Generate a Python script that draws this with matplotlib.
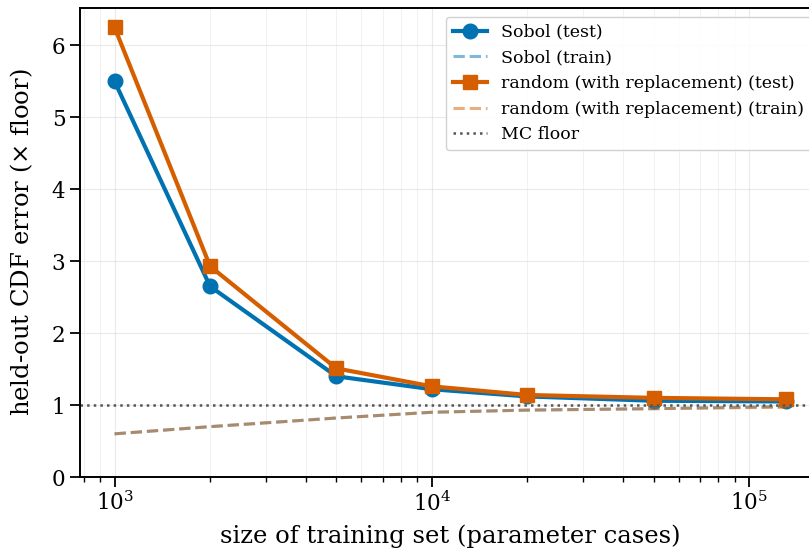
import matplotlib
matplotlib.use("Agg")
import matplotlib.pyplot as plt
import numpy as np

plt.rcParams['font.family'] = ['DejaVu Serif']
plt.rcParams['mathtext.fontset'] = 'dejavuserif'

# tailles d'entrainement (nb de cas de parametres)
n_train = [1000, 2000, 5000, 10000, 20000, 50000, 131072]

# erreur CDF hors-echantillon, en multiple du plancher MC
sobol_test = [5.50, 2.65, 1.40, 1.22, 1.12, 1.06, 1.05]
sobol_train = [0.60, 0.70, 0.82, 0.90, 0.93, 0.95, 0.98]
rand_test = [6.25, 2.93, 1.51, 1.26, 1.14, 1.10, 1.08]
rand_train = [0.60, 0.70, 0.82, 0.90, 0.93, 0.95, 0.97]
mc_floor = 1.0

c_sobol = '#0072B2'
c_rand = '#D55E00'

fig = plt.figure(figsize=(8.09, 5.5), dpi=100)
ax = fig.add_axes([80/809, 1 - 477/550, (820 - 80)/809, (477 - 8)/550])

ax.plot(n_train, sobol_test, '-o', color=c_sobol, lw=3, ms=10.5, label='Sobol (test)')
ax.plot(n_train, sobol_train, '--', color=c_sobol, lw=2.2, alpha=0.5, label='Sobol (train)')
ax.plot(n_train, rand_test, '-s', color=c_rand, lw=3, ms=10.5, label='random (with replacement) (test)')
ax.plot(n_train, rand_train, '--', color=c_rand, lw=2.2, alpha=0.5, label='random (with replacement) (train)')
ax.axhline(mc_floor, color='#555555', ls=':', lw=1.8, label='MC floor')

ax.set_xscale('log')
ax.set_ylim(0, 6.52)
ax.set_xlim(10**2.891, 10**5.2234)

ax.grid(True, which='major', color='#dddddd', lw=0.8, alpha=0.6)
ax.grid(True, which='minor', axis='x', color='#e5e5e5', lw=0.6, alpha=0.6)

ax.tick_params(axis='both', which='major', labelsize=15.5, length=7, width=1.3, direction='out')
ax.tick_params(axis='x', which='minor', length=3.8, width=1.0)
for s in ax.spines.values():
    s.set_linewidth(1.4)

ax.set_xlabel('size of training set (parameter cases)', fontsize=17.5, labelpad=6)
ax.set_ylabel(r'held-out CDF error ($\times$ floor)', fontsize=17.5, labelpad=12)

leg = ax.legend(loc='upper right', fontsize=12.5, framealpha=0.9, edgecolor='#cccccc')

fig.savefig('out.png', dpi=100)
